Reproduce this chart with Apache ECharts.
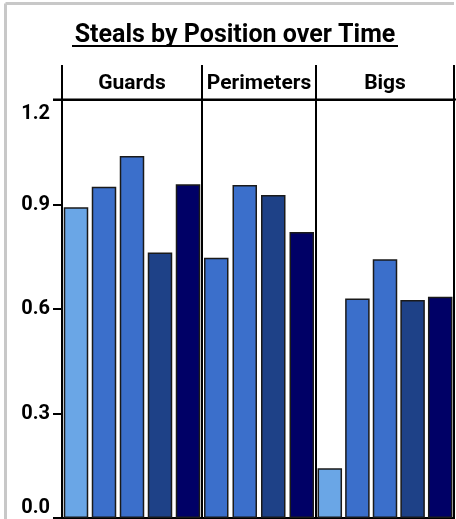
<!DOCTYPE html>
<html>
<head>
<meta charset="utf-8">
<script src="https://cdn.jsdelivr.net/npm/echarts@6/dist/echarts.min.js"></script>
<style>
    html,body{margin:0;padding:0;background:#fff;}
    #main{width:456px;height:519px;}
</style>
</head>
<body>
<div id="main"></div>
<script>
    // facets and eras
    var facets = ['Guards', 'Perimeters', 'Bigs'];
    var guardsEras = ['Era 1', 'Era 2', 'Era 3', 'Era 4', 'Era 5'];
    var perimEras = ['Era 2', 'Era 3', 'Era 4', 'Era 5'];
    var bigsEras = ['Era 1', 'Era 2', 'Era 3', 'Era 4', 'Era 5'];
    // steals values
    var guardsVals = [0.892, 0.951, 1.039, 0.762, 0.958];
    var perimVals = [0.747, 0.956, 0.927, 0.821];
    var bigsVals = [0.143, 0.630, 0.743, 0.626, 0.635];
    var yTicks = [0, 0.3, 0.6, 0.9, 1.2];

    var eraColors = {
        'Era 1': '#6aa6e6',
        'Era 2': '#3b6fcb',
        'Era 3': '#3b6fcb',
        'Era 4': '#1e4187',
        'Era 5': '#000066'
    };

    var myChart = echarts.init(document.getElementById('main'));

    var facetBox = [
        {left: 62, width: 140, eras: guardsEras, vals: guardsVals},
        {left: 202, width: 114, eras: perimEras, vals: perimVals},
        {left: 316, width: 138, eras: bigsEras, vals: bigsVals}
    ];

    var grids = [], xAxes = [], yAxes = [], series = [];
    var graphics = [];

    // grey frame (left + top)
    graphics.push({type: 'line', shape: {x1: 5.5, y1: 3.5, x2: 454, y2: 3.5}, style: {stroke: '#c8c8c8', lineWidth: 3}, silent: true});
    graphics.push({type: 'line', shape: {x1: 5.5, y1: 3.5, x2: 5.5, y2: 519}, style: {stroke: '#c8c8c8', lineWidth: 3}, silent: true});

    // title with underline
    graphics.push({type: 'text', x: 235, y: 36, style: {text: 'Steals by Position over Time', font: 'bold 25px Roboto', fill: '#000', align: 'center', verticalAlign: 'middle'}, silent: true});
    graphics.push({type: 'line', shape: {x1: 72, y1: 46, x2: 398, y2: 46}, style: {stroke: '#000', lineWidth: 2}, silent: true});

    // strip header line
    graphics.push({type: 'line', shape: {x1: 53, y1: 99.5, x2: 456, y2: 99.5}, style: {stroke: '#000', lineWidth: 2}, silent: true});

    facetBox.forEach(function (f, i) {
        grids.push({
            left: f.left, width: f.width, top: 100, height: 418,
            show: true, borderColor: '#000', borderWidth: 2, backgroundColor: 'transparent'
        });
        xAxes.push({
            type: 'category', gridIndex: i, data: f.eras,
            axisLine: {show: true, lineStyle: {color: '#000', width: 2}},
            axisTick: {show: false}, axisLabel: {show: false}
        });
        yAxes.push({
            type: 'value', gridIndex: i, min: 0, max: 1.2, interval: 0.3,
            axisLine: {show: i === 0, lineStyle: {color: '#000', width: 2}},
            axisTick: {show: i === 0, length: 9, lineStyle: {color: '#000', width: 2}},
            axisLabel: {
                show: i === 0, margin: 12, color: '#000',
                fontFamily: 'Roboto', fontWeight: 'bold', fontSize: 20,
                verticalAlignMinLabel: 'bottom', verticalAlignMaxLabel: 'top',
                formatter: function (v) {
                    var s = v.toFixed(1);
                    if (v === yTicks[0]) return '{lo|' + s + '}';
                    if (v === yTicks[yTicks.length - 1]) return '{hi|' + s + '}';
                    return s;
                },
                rich: {
                    lo: {fontFamily: 'Roboto', fontWeight: 'bold', fontSize: 20, color: '#000', padding: [0, 0, 0, 0]},
                    hi: {fontFamily: 'Roboto', fontWeight: 'bold', fontSize: 20, color: '#000', padding: [4, 0, 0, 0]}
                }
            },
            splitLine: {show: false}
        });
        series.push({
            type: 'bar', xAxisIndex: i, yAxisIndex: i,
            barWidth: 24.5,
            data: f.vals.map(function (v, k) {
                return {value: v, itemStyle: {color: eraColors[f.eras[k]]}};
            }),
            itemStyle: {borderColor: '#1a1a1a', borderWidth: 1.5},
            silent: true
        });
        // header vertical line + facet label
        graphics.push({type: 'line', shape: {x1: f.left, y1: 65, x2: f.left, y2: 100}, style: {stroke: '#000', lineWidth: 2}, silent: true});
        graphics.push({type: 'text', x: f.left + f.width / 2, y: 84,
            style: {text: facets[i], font: 'bold 21px Roboto', fill: '#000', align: 'center', verticalAlign: 'middle'}, silent: true});
    });
    graphics.push({type: 'line', shape: {x1: 454, y1: 65, x2: 454, y2: 100}, style: {stroke: '#000', lineWidth: 2}, silent: true});

    myChart.setOption({
        animation: false,
        grid: grids,
        xAxis: xAxes,
        yAxis: yAxes,
        series: series,
        graphic: graphics
    });
</script>
</body>
</html>
